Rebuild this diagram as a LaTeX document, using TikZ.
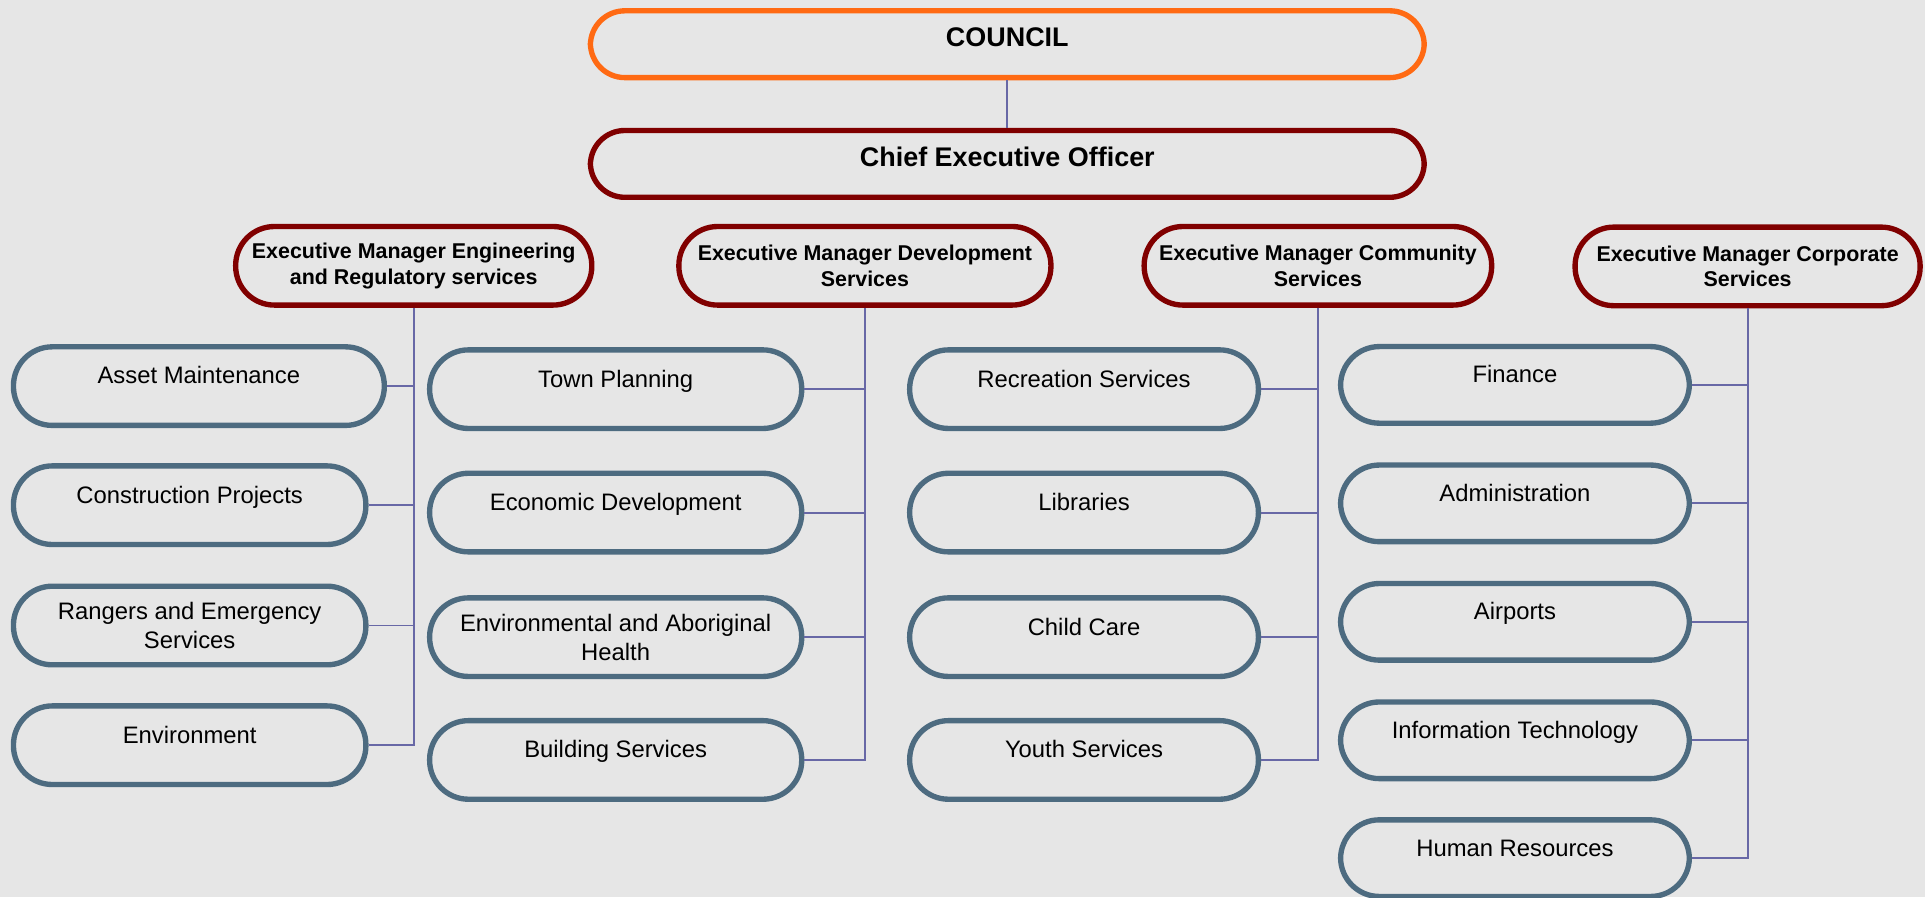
\documentclass[tikz,border=0pt]{standalone}
\usepackage{fontspec}
\setmainfont{Liberation Sans}
\definecolor{bggray}{HTML}{E6E6E6}
\definecolor{councilorange}{HTML}{FF6A13}
\definecolor{mgrred}{HTML}{800000}
\definecolor{unitblue}{HTML}{4D6B80}
\definecolor{linkpurple}{HTML}{6868A6}
\begin{document}
\begin{tikzpicture}[x=0.025cm,y=-0.025cm,
    top/.style={draw=mgrred,line width=3.1pt,rounded corners=0.7cm,minimum width=16.975cm,minimum height=1.36cm,inner sep=0pt,font=\fontsize{15.6}{18.7}\selectfont\bfseries,text height=0.75em,text depth=0.45em},
    mgr/.style={draw=mgrred,line width=3.1pt,rounded corners=0.79cm,minimum height=1.6cm,inner sep=0pt,align=center,font=\fontsize{12.4}{14.9}\selectfont\bfseries},
    unit/.style={draw=unitblue,line width=3.1pt,rounded corners=0.79cm,minimum height=1.6cm,inner sep=0pt,align=center,font=\fontsize{13.8}{16.6}\selectfont},
    unitone/.style={unit,text height=0.75em,text depth=1em},
    link/.style={linkpurple,line width=1.1pt}]
    \fill[bggray](0,0)rectangle(1568,731);
    \useasboundingbox(0,0)rectangle(1568,731);
    % top of the chart
    \node[top,draw=councilorange](council)at(820.5,36){COUNCIL};
    \node[top](ceo)at(820.5,133.5){Chief Executive Officer};
    \draw[link](council)--(ceo);
    % executive managers
    \node[mgr,minimum width=7.25cm](eng)at(337,216.5){Executive Manager Engineering\\and Regulatory services};
    \node[mgr,minimum width=7.575cm](dev)at(704.5,216.5){Executive Manager Development\\Services};
    \node[mgr,minimum width=7.075cm](com)at(1073.5,216.5){Executive Manager Community\\Services};
    \node[mgr,minimum width=7.025cm](corp)at(1423.5,217){Executive Manager Corporate\\Services};
    % engineering and regulatory
    \node[unitone,minimum width=7.55cm](e1)at(162,314.5){Asset Maintenance};
    \node[unitone,minimum width=7.175cm](e2)at(154.5,411.5){Construction Projects};
    \node[unit,minimum width=7.175cm](e3)at(154.5,509.5){Rangers and Emergency\\Services};
    \node[unitone,minimum width=7.175cm](e4)at(154.5,607){Environment};
    % development
    \node[unitone,minimum width=7.575cm](d1)at(501.5,317){Town Planning};
    \node[unitone,minimum width=7.575cm](d2)at(501.5,417.5){Economic Development};
    \node[unit,minimum width=7.575cm](d3)at(501.5,519){Environmental and Aboriginal\\Health};
    \node[unitone,minimum width=7.575cm](d4)at(501.5,619){Building Services};
    % community
    \node[unitone,minimum width=7.1cm](c1)at(883,317){Recreation Services};
    \node[unitone,minimum width=7.1cm](c2)at(883,417.5){Libraries};
    \node[unitone,minimum width=7.1cm](c3)at(883,519){Child Care};
    \node[unitone,minimum width=7.1cm](c4)at(883,619){Youth Services};
    % corporate
    \node[unitone,minimum width=7.1cm,minimum height=1.56cm](p1)at(1234,313.5){Finance};
    \node[unitone,minimum width=7.1cm,minimum height=1.56cm](p2)at(1234,410){Administration};
    \node[unitone,minimum width=7.1cm,minimum height=1.56cm](p3)at(1234,506.5){Airports};
    \node[unitone,minimum width=7.1cm,minimum height=1.56cm](p4)at(1234,603){Information Technology};
    \node[unitone,minimum width=7.1cm,minimum height=1.56cm](p5)at(1234,699){Human Resources};
    % connectors
    \foreach \k in {e1,e2,e3,e4} \draw[link](eng.south)|-(\k.east);
    \foreach \k in {d1,d2,d3,d4} \draw[link](dev.south)|-(\k.east);
    \foreach \k in {c1,c2,c3,c4} \draw[link](com.south)|-(\k.east);
    \foreach \k in {p1,p2,p3,p4,p5} \draw[link](corp.south)|-(\k.east);
\end{tikzpicture}
\end{document}
